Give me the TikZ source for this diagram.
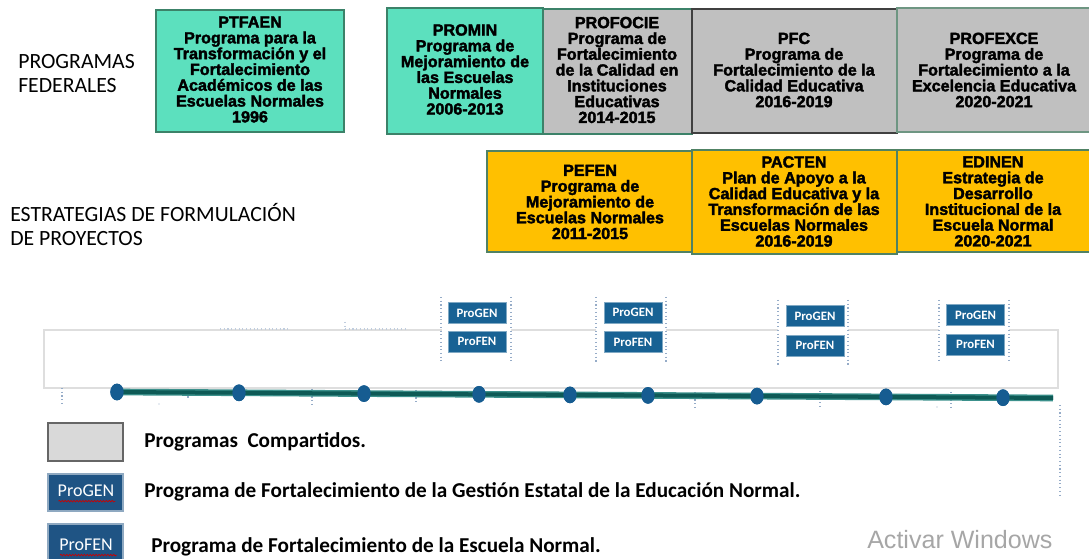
\documentclass[tikz,border=0pt]{standalone}
\usepackage{fontspec}
\setmainfont{Carlito}
\newfontfamily\boxfont{Liberation Sans}[BoldFeatures={FakeBold=2.2}]
\newfontfamily\winfont{Liberation Sans}
\usetikzlibrary{shapes.geometric,decorations.pathmorphing}
\definecolor{verde}{RGB}{92,224,190}
\definecolor{verdeborde}{RGB}{60,130,105}
\definecolor{gris}{RGB}{192,192,192}
\definecolor{grisborde}{RGB}{64,64,64}
\definecolor{grisverde}{RGB}{110,150,130}
\definecolor{amarillo}{RGB}{255,192,0}
\definecolor{amarilloborde}{RGB}{80,130,100}
\definecolor{azulpro}{RGB}{24,98,148}
\definecolor{azulleyenda}{RGB}{31,84,132}
\definecolor{lineaosc}{RGB}{14,90,86}
\definecolor{lineaclara}{RGB}{60,145,140}
\definecolor{punto}{RGB}{22,92,145}
\definecolor{guia}{RGB}{150,172,200}
\begin{document}
\begin{tikzpicture}[x=0.75pt,y=0.75pt,yscale=-1,xscale=1,
  progtext/.style={inner sep=0.75pt, align=center, font=\boxfont\bfseries\fontsize{12.1}{11.85}\selectfont},
  heading/.style={anchor=west, inner sep=0.75pt, align=left, font=\fontsize{16.3}{18}\selectfont},
  probox/.style={draw=azulpro!55!white, fill=azulpro, text=white, font=\bfseries\fontsize{9.6}{9.6}\selectfont, minimum width=43.5pt, minimum height=15.75pt, inner sep=0pt},
  guide/.style={draw=guia, dotted, line width=0.8pt},
  dot/.style={ellipse, fill=punto, minimum width=10pt, minimum height=12.5pt, inner sep=0pt},
  legend/.style={anchor=west, inner sep=0.75pt, font=\bfseries\fontsize{15.9}{15.9}\selectfont},
  squiggle/.style={draw=red!80!black, line width=0.5pt, decorate, decoration={snake, amplitude=0.6pt, segment length=2.2pt}}]
\useasboundingbox (0,0) rectangle (1089,559);

%Shape: Rectangle [PTFAEN]
\draw  [draw=verdeborde, fill=verde, line width=1pt] (156,10) rectangle (344,132) ;
%Shape: Rectangle [PROMIN]
\draw  [draw=verdeborde, fill=verde, line width=1pt] (387,8) rectangle (543,134) ;
%Shape: Rectangle [PROFOCIE]
\draw  [draw=verdeborde, fill=gris, line width=1pt] (543,9) rectangle (692,134) ;
%Shape: Rectangle [PFC]
\draw  [draw=grisborde, fill=gris, line width=1pt] (692,9) rectangle (897,133) ;
%Shape: Rectangle [PROFEXCE]
\draw  [draw=grisverde, fill=gris, line width=1pt] (897,8) rectangle (1092,132) ;
%Shape: Rectangle [PEFEN]
\draw  [draw=amarilloborde, fill=amarillo, line width=1pt] (487,151) rectangle (692,252) ;
%Shape: Rectangle [PACTEN]
\draw  [draw=amarilloborde, fill=amarillo, line width=1pt] (692,150) rectangle (897,254) ;
%Shape: Rectangle [EDINEN]
\draw  [draw=amarilloborde, fill=amarillo, line width=1pt] (897,150) rectangle (1092,252) ;

% Text Node
\node (ptfaen) at (250,69.5) [progtext] {PTFAEN\\Programa para la\\Transformación y el\\Fortalecimiento\\Académicos de las\\Escuelas Normales\\1996};
% Text Node
\node (promin) at (465,69.5) [progtext] {PROMIN\\Programa de\\Mejoramiento de\\las Escuelas\\Normales\\2006-2013};
% Text Node
\node (profocie) at (617,70) [progtext] {PROFOCIE\\Programa de\\Fortalecimiento\\de la Calidad en\\Instituciones\\Educativas\\2014-2015};
% Text Node
\node (pfc) at (794,70) [progtext] {PFC\\Programa de\\Fortalecimiento de la\\Calidad Educativa\\2016-2019};
% Text Node
\node (profexce) at (994,70) [progtext] {PROFEXCE\\Programa de\\Fortalecimiento a la\\Excelencia Educativa\\2020-2021};
% Text Node
\node (pefen) at (590,202) [progtext] {PEFEN\\Programa de\\Mejoramiento de\\Escuelas Normales\\2011-2015};
% Text Node
\node (pacten) at (794,201.5) [progtext] {PACTEN\\Plan de Apoyo a la\\Calidad Educativa y la\\Transformación de las\\Escuelas Normales\\2016-2019};
% Text Node
\node (edinen) at (993,201.5) [progtext] {EDINEN\\Estrategia de\\Desarrollo\\Institucional de la\\Escuela Normal\\2020-2021};

% Text Node
\node (federales) at (17,74) [heading] {PROGRAMAS\\FEDERALES};
% Text Node
\node (estrategias) at (9,225) [heading] {ESTRATEGIAS DE FORMULACIÓN\\DE PROYECTOS};

%Shape: Rectangle [marco]
\draw  [draw=black!13, line width=0.8pt] (44,330) rectangle (1058,388) ;
\draw  [guide, draw=guia!60] (220,329) -- (290,329) (345,329) -- (405,329) (345,322) -- (345,330) ;
%Columns
\fill [white] (442,297) rectangle (511,361) (596,297) rectangle (666,362) (778,300) rectangle (848,365) (939,300) rectangle (1009,363) ;
\draw  [guide] (441,297) -- (441,361) (511,297) -- (511,361) ;
\draw  [guide] (596,297) -- (596,362) (666,297) -- (666,362) ;
\draw  [guide] (778,300) -- (778,365) (848,300) -- (848,365) ;
\draw  [guide] (939,300) -- (939,363) (1009,300) -- (1009,363) ;
%Ticks
\draw  [guide] (62,388) -- (62,403) (188,389) -- (188,400) (312,389) -- (312,405) (416,390) -- (416,403) (695,392) -- (695,409) (820,391) -- (820,409) (951,392) -- (951,407) (1060,405) -- (1060,497) ;
\fill [guia] (159,404) circle (0.6) (937,407) circle (0.6) ;

% ProGEN / ProFEN
\node (progen1) at (477,313) [probox] {ProGEN};
\node (profen1) at (477,341.5) [probox] {ProFEN};
\node (progen2) at (633,312.5) [probox] {ProGEN};
\node (profen2) at (633,342) [probox] {ProFEN};
\node (progen3) at (815,316) [probox] {ProGEN};
\node (profen3) at (815,345.5) [probox] {ProFEN};
\node (progen4) at (975.5,315) [probox] {ProGEN};
\node (profen4) at (975.5,344.5) [probox] {ProFEN};

%Timeline
\coordinate (tlend) at (1053,398);
\node (d1) at (117,392) [dot] {};
\node (d2) at (239,392.8) [dot] {};
\node (d3) at (364,393.6) [dot] {};
\node (d4) at (479,394.3) [dot] {};
\node (d5) at (570,394.9) [dot] {};
\node (d6) at (648,395.4) [dot] {};
\node (d7) at (757,396.1) [dot] {};
\node (d8) at (886,396.9) [dot] {};
\node (d9) at (1003,397.7) [dot] {};
\draw  [lineaclara, line width=5pt] (d1.center) -- (tlend) ;
\draw  [lineaosc, line width=3pt] (d1.center) -- (tlend) ;
\foreach \d in {d1,d2,d3,d4,d5,d6,d7,d8,d9} \node at (\d) [dot] {};

%Legend
\draw  [draw=black!60, fill=black!15, line width=0.8pt] (48,423) rectangle (123,461) ;
\node (compartidos) at (143,442) [legend] {Programas\ \ Compartidos.};
\draw  [draw=azulleyenda!50!white, fill=azulleyenda, line width=0.8pt] (48,474) rectangle (123,511) ;
\node (progenl) at (86,491) [inner sep=0.75pt, text=white, font=\fontsize{13.5}{13.5}\selectfont] {ProGEN};
\draw  [squiggle] (progenl.south west) ++(2,3) -- ++(57,0) ;
\node (progentxt) at (143,492) [legend] {Programa de Fortalecimiento de la Gestión Estatal de la Educación Normal.};
\draw  [draw=azulleyenda!50!white, fill=azulleyenda, line width=0.8pt] (48,524) rectangle (123,562) ;
\node (profenl) at (86,545) [inner sep=0.75pt, text=white, font=\fontsize{13.5}{13.5}\selectfont] {ProFEN};
\draw  [squiggle] (profenl.south west) ++(2,3) -- ++(57,0) ;
\node (profentxt) at (150,547) [legend] {Programa de Fortalecimiento de la Escuela Normal.};
\node (activar) at (866,540) [anchor=west, inner sep=0.75pt, text=black!35, font=\winfont\fontsize{18.8}{18.8}\selectfont] {Activar Windows};

\end{tikzpicture}
\end{document}
